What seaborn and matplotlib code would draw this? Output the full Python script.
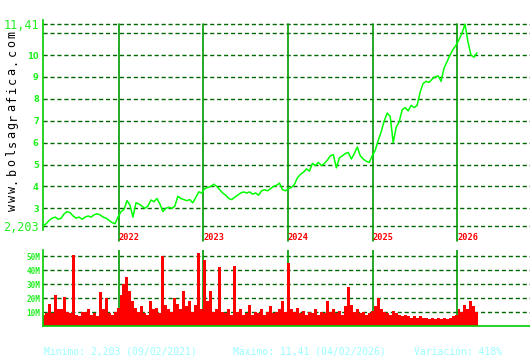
import numpy as np
import pandas as pd
import matplotlib
matplotlib.use("Agg")
import matplotlib.pyplot as plt
import matplotlib.transforms as mtransforms
import seaborn as sns

# ---------------- data ----------------
start_date = "2021-02-09"
end_date = "2026-03-27"

price = [
    2.20, 2.30, 2.45, 2.55, 2.60, 2.50, 2.55, 2.75, 2.85, 2.80,
    2.65, 2.55, 2.60, 2.50, 2.60, 2.65, 2.60, 2.70, 2.75, 2.70,
    2.60, 2.55, 2.45, 2.35, 2.30, 2.60, 2.85, 2.95, 3.35, 3.15,
    2.60, 3.25, 3.20, 3.10, 3.00, 3.10, 3.38, 3.30, 3.45, 3.20,
    2.85, 3.00, 3.05, 3.00, 3.10, 3.55, 3.45, 3.40, 3.35, 3.40,
    3.25, 3.50, 3.75, 3.70, 3.90, 3.95, 4.00, 4.10, 4.00, 3.85,
    3.70, 3.60, 3.45, 3.40, 3.50, 3.60, 3.70, 3.75, 3.70, 3.75,
    3.65, 3.70, 3.60, 3.80, 3.85, 3.80, 3.90, 4.00, 4.05, 4.15,
    3.85, 3.80, 3.90, 3.95, 4.10, 4.40, 4.55, 4.65, 4.80, 4.70,
    5.05, 4.95, 5.10, 4.95, 5.05, 5.20, 5.40, 5.45, 4.85, 5.30,
    5.40, 5.50, 5.55, 5.25, 5.50, 5.80, 5.40, 5.25, 5.15, 5.10,
    5.40, 5.65, 6.10, 6.50, 7.00, 7.35, 7.20, 6.00, 6.70, 6.95,
    7.50, 7.60, 7.45, 7.70, 7.60, 7.70, 8.30, 8.70, 8.80, 8.75,
    8.90, 9.00, 9.05, 8.80, 9.40, 9.70, 10.00, 10.25, 10.45, 10.70,
    11.00, 11.41, 10.60, 10.00, 9.90, 10.10,
]

volume_m = [
    8, 9, 16, 9, 22, 12, 12, 21, 10, 9,
    51, 8, 7, 10, 10, 12, 8, 9, 7, 24,
    12, 20, 9, 8, 10, 13, 22, 30, 35, 25,
    18, 13, 10, 14, 9, 8, 18, 12, 13, 9,
    50, 15, 12, 10, 20, 16, 12, 25, 14, 18,
    10, 15, 52, 12, 47, 18, 25, 10, 12, 42,
    10, 9, 12, 8, 43, 10, 12, 8, 9, 15,
    8, 10, 9, 12, 8, 10, 14, 9, 10, 12,
    18, 10, 45, 12, 10, 13, 9, 11, 8, 10,
    9, 12, 8, 10, 9, 18, 10, 12, 9, 11,
    8, 14, 28, 15, 10, 12, 9, 10, 8, 9,
    11, 14, 20, 12, 10, 9, 8, 11, 9, 8,
    7, 8, 7, 6, 7, 6, 7, 6, 6, 5,
    6, 5, 6, 5, 6, 5, 6, 7, 8, 12,
    10, 15, 12, 18, 14, 10,
]

year_labels = ["2022", "2023", "2024", "2025", "2026"]
price_ticks = [3, 4, 5, 6, 7, 8, 9, 10]
price_grid_extra = [11]
price_min = 2.203
price_max = 11.41
price_min_label = "2,203"
price_max_label = "11,41"
vol_ticks_m = [10, 20, 30, 40, 50]
vol_tick_labels = ["10M", "20M", "30M", "40M", "50M"]
site_text = "www.bolsagrafica.com"
footer_min = "Minimo: 2,203 (09/02/2021)"
footer_max = "Maximo: 11,41 (04/02/2026)"
footer_var = "Variación: 418%"

# ---------------- style ----------------
sns.set_theme(style="white")
plt.rcParams["font.family"] = ["DejaVu Sans"]
plt.rcParams["lines.scale_dashes"] = False

LINE_GREEN = "#00ff00"
LABEL_GREEN = "#22ee22"
SPINE_GREEN = "#00cc00"
YEAR_GREEN = "#009900"
GRID_GREEN = "#006600"
DASH = (0, (3, 2))

dates = pd.date_range(start_date, end_date, periods=len(price))
df = pd.DataFrame({"date": dates, "price": price,
                   "volume": np.array(volume_m, dtype=float) * 1e6})

W, H = 530, 360
fig = plt.figure(figsize=(W / 100, H / 100), dpi=100)
fig.patch.set_facecolor("white")
ax = fig.add_axes([43 / W, 130 / H, 487 / W, 210 / H])
axv = fig.add_axes([43 / W, 34 / H, 487 / W, 76 / H])

xlim = (pd.Timestamp("2021-02-08"), pd.Timestamp("2026-11-11"))
ylim = (2.01, 11.60)

# ---------------- price panel ----------------
for v in [price_min] + price_ticks + price_grid_extra + [price_max]:
    ax.axhline(v, color=GRID_GREEN, lw=1.0, ls=DASH, zorder=1)

year_dates = [pd.Timestamp(f"{y}-01-01") for y in year_labels]
ymax_frac = (price_max - ylim[0]) / (ylim[1] - ylim[0])
for d in year_dates:
    ax.axvline(d, ymin=-11 / 210, ymax=ymax_frac, color=YEAR_GREEN, lw=1.2,
               clip_on=False, zorder=2)

sns.lineplot(data=df, x="date", y="price", ax=ax, color=LINE_GREEN, lw=1.1,
             zorder=3)

trans = mtransforms.blended_transform_factory(ax.transData, ax.transAxes)
for d, lab in zip(year_dates, year_labels):
    ax.text(d, -7 / 210, lab, transform=trans, color="#ff0000", fontsize=6.2,
            fontfamily="DejaVu Sans Mono", fontweight="bold",
            ha="left", va="center")

ax.set_xlim(*xlim)
ax.set_ylim(*ylim)
ax.set_yticks([price_min] + price_ticks + [price_max])
ax.set_yticklabels([price_min_label] + [str(t) for t in price_ticks] + [price_max_label])
for lab in ax.get_yticklabels():
    lab.set_color(LABEL_GREEN)
    if lab.get_text() in (price_min_label, price_max_label):
        lab.set_fontsize(8.5)
        lab.set_fontfamily("DejaVu Sans Mono")
    else:
        lab.set_fontsize(6)
        lab.set_fontweight("bold")
ax.tick_params(axis="y", length=0, pad=3)
ax.set_xticks([])
ax.set_xlabel("")
ax.set_ylabel("")
for s in ["top", "right", "bottom"]:
    ax.spines[s].set_visible(False)
ax.spines["left"].set_color(SPINE_GREEN)
ax.spines["left"].set_linewidth(1.2)
ax.set_facecolor("none")

# ---------------- volume panel ----------------
vmax = 54.3e6
for v in vol_ticks_m:
    axv.axhline(v * 1e6, color=GRID_GREEN, lw=1.0, ls=DASH, zorder=1)
for d in year_dates:
    axv.axvline(d, color=YEAR_GREEN, lw=1.2, zorder=1)
step = (dates[1] - dates[0]).total_seconds() / 86400.0
axv.bar(df["date"], df["volume"], width=step, color="#ff0000", linewidth=0,
        zorder=2)
axv.set_xlim(*xlim)
axv.set_ylim(0, vmax)
axv.set_yticks([v * 1e6 for v in vol_ticks_m])
axv.set_yticklabels(vol_tick_labels)
for lab in axv.get_yticklabels():
    lab.set_color(LABEL_GREEN)
    lab.set_fontsize(5.5)
    lab.set_fontweight("bold")
    lab.set_fontfamily("DejaVu Sans Mono")
axv.tick_params(axis="y", length=0, pad=2)
axv.set_xticks([])
for s in ["top", "right"]:
    axv.spines[s].set_visible(False)
for s in ["left", "bottom"]:
    axv.spines[s].set_color(SPINE_GREEN)
    axv.spines[s].set_linewidth(1.2)
axv.set_facecolor("none")

# ---------------- texts ----------------
# letter-spaced vertical site name (bottom to top)
n = len(site_text)
top_px, bot_px = 30, 212
pitch = (bot_px - top_px) / n
for i, ch in enumerate(site_text):
    ypx = bot_px - pitch * (i + 0.5)
    fig.text(12 / W, 1 - ypx / H, ch, rotation=90, ha="center", va="center",
             fontsize=8.5, fontfamily="DejaVu Sans Mono", color="black")

fcol = "#99ffff"
fig.text(44 / W, 1 - 352 / H, footer_min, ha="left", va="center", fontsize=7,
         fontfamily="DejaVu Sans Mono", color=fcol)
fig.text(233 / W, 1 - 352 / H, footer_max, ha="left", va="center", fontsize=7,
         fontfamily="DejaVu Sans Mono", color=fcol)
fig.text(414 / W, 1 - 352 / H, footer_var, ha="left", va="center", fontsize=7,
         fontfamily="DejaVu Sans Mono", color=fcol)

fig.savefig("out.png", dpi=100, facecolor="white")
